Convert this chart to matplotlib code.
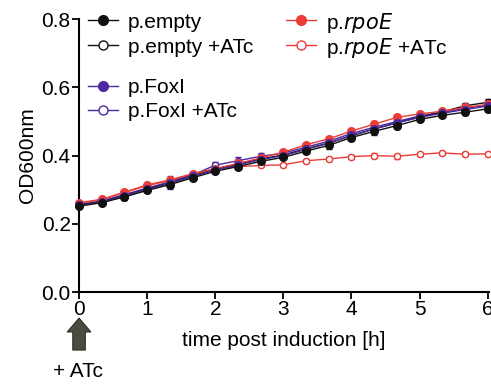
import numpy as np
import matplotlib.pyplot as plt
from matplotlib.lines import Line2D

plt.rcParams['font.family'] = ['Liberation Sans', 'DejaVu Sans']

# time points every 20 min
time_h = [0, 1/3, 2/3, 1, 4/3, 5/3, 2, 7/3, 8/3, 3, 10/3, 11/3, 4, 13/3, 14/3, 5, 16/3, 17/3, 6]

empty = [0.252, 0.262, 0.279, 0.298, 0.315, 0.335, 0.354, 0.368, 0.383, 0.395, 0.413, 0.430,
         0.453, 0.471, 0.488, 0.506, 0.518, 0.527, 0.537]
empty_atc = [0.255, 0.265, 0.283, 0.302, 0.320, 0.340, 0.360, 0.375, 0.390, 0.402, 0.420, 0.437,
             0.458, 0.478, 0.496, 0.513, 0.528, 0.546, 0.556]
foxi = [0.254, 0.264, 0.282, 0.301, 0.319, 0.339, 0.358, 0.372, 0.388, 0.400, 0.418, 0.436,
        0.460, 0.478, 0.496, 0.512, 0.524, 0.535, 0.545]
foxi_atc = [0.256, 0.267, 0.286, 0.305, 0.323, 0.343, 0.372, 0.385, 0.398, 0.407, 0.425, 0.442,
            0.465, 0.483, 0.500, 0.516, 0.527, 0.538, 0.548]
rpoe = [0.262, 0.272, 0.293, 0.314, 0.329, 0.347, 0.362, 0.377, 0.393, 0.410, 0.432, 0.449,
        0.472, 0.492, 0.512, 0.522, 0.530, 0.541, 0.550]
rpoe_atc = [0.260, 0.271, 0.292, 0.312, 0.327, 0.345, 0.360, 0.368, 0.371, 0.373, 0.385, 0.390,
            0.397, 0.400, 0.398, 0.404, 0.408, 0.404, 0.405]

# standard deviations (small)
err_black = [0.004, 0.004, 0.008, 0.004, 0.006, 0.005, 0.004, 0.008, 0.008, 0.005, 0.006, 0.010,
             0.008, 0.012, 0.010, 0.006, 0.006, 0.008, 0.010]
err_purple = [0.004, 0.005, 0.012, 0.005, 0.016, 0.006, 0.010, 0.012, 0.010, 0.006, 0.007, 0.012,
              0.012, 0.012, 0.012, 0.008, 0.007, 0.008, 0.012]
err_red = [0.003, 0.004, 0.005, 0.004, 0.005, 0.005, 0.005, 0.006, 0.005, 0.005, 0.006, 0.006,
           0.006, 0.008, 0.008, 0.005, 0.005, 0.006, 0.006]

BLACK = '#111111'
PURPLE = '#4a2aa0'
RED = '#ec3c37'
FS = 15

fig = plt.figure(figsize=(4.91, 3.89), dpi=100)
ax = fig.add_axes([0.161, 0.249, 0.835, 0.702])

series = [
    ('p.empty', empty, err_black, BLACK, True),
    ('p.empty +ATc', empty_atc, err_black, BLACK, False),
    ('p.FoxI', foxi, err_purple, PURPLE, True),
    ('p.FoxI +ATc', foxi_atc, err_purple, PURPLE, False),
    ('p.$\\it{rpoE}$', rpoe, err_red, RED, True),
    ('p.$\\it{rpoE}$ +ATc', rpoe_atc, err_red, RED, False),
]
order = [5, 4, 3, 2, 1, 0]
for i in order:
    name, vals, err, col, filled = series[i]
    ax.errorbar(time_h, vals, yerr=err, color=col, lw=1.0, marker='o',
                ms=5.5 if filled else 4.5, mfc=col if filled else 'white', mec=col, mew=1.0,
                capsize=2, elinewidth=1.0, clip_on=False, zorder=3 + (1 if filled else 0))

ax.set_xlim(0, 6.02)
ax.set_ylim(0, 0.8)
ax.set_xticks([0, 1, 2, 3, 4, 5, 6])
ax.set_yticks([0.0, 0.2, 0.4, 0.6, 0.8])
ax.set_yticklabels(['0.0', '0.2', '0.4', '0.6', '0.8'])
ax.tick_params(labelsize=FS, length=5, width=1.3, direction='out', pad=1)
for s in ['top', 'right']:
    ax.spines[s].set_visible(False)
for s in ['left', 'bottom']:
    ax.spines[s].set_linewidth(1.5)
ax.set_ylabel('OD600nm', fontsize=FS, labelpad=3)
ax.set_xlabel('time post induction [h]', fontsize=FS, labelpad=8)

# legend drawn by hand: (series index, column x, row y) in axes fraction
legend_slots = [(0, 0.022, 0.996), (1, 0.022, 0.905), (2, 0.022, 0.755), (3, 0.022, 0.667),
                (4, 0.505, 0.996), (5, 0.505, 0.905)]
for idx, lx, ly in legend_slots:
    name, vals, err, col, filled = series[idx]
    ax.add_line(Line2D([lx, lx + 0.073], [ly, ly], transform=ax.transAxes, color=col, lw=1.0,
                       clip_on=False))
    ax.add_line(Line2D([lx + 0.0365], [ly], transform=ax.transAxes, marker='o',
                       ms=7 if filled else 6.5, color=col, mfc=col if filled else 'white',
                       mec=col, mew=1.0, clip_on=False))
    ax.text(lx + 0.097, ly, name, transform=ax.transAxes, fontsize=FS, ha='left',
            va='center_baseline')

# induction arrow
ax.annotate('', xy=(0, -0.095), xytext=(0, -0.212), xycoords=('data', 'axes fraction'),
            textcoords=('data', 'axes fraction'), annotation_clip=False,
            arrowprops=dict(width=9, headwidth=17, headlength=10, fc='#4b4b3f', ec='#2e2e26',
                            lw=0.8, shrink=0))
ax.text(-0.01, -0.29, '+ ATc', transform=ax.get_xaxis_transform(), ha='center', va='center',
        fontsize=FS)

fig.savefig('out.png', dpi=100)
